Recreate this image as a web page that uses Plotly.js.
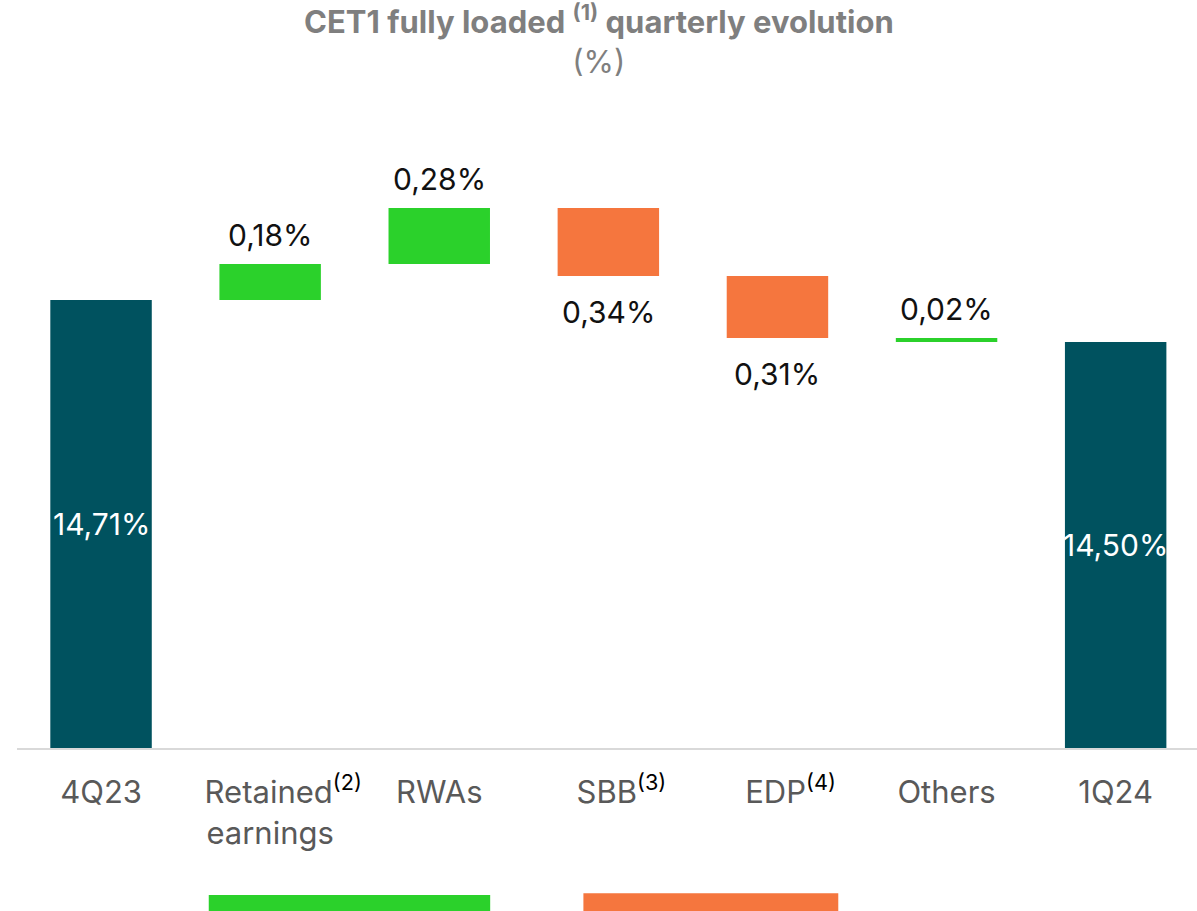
<!DOCTYPE html>
<html>
<head>
<meta charset="utf-8">
<script src="https://cdn.plot.ly/plotly-3.0.1.min.js"></script>
<style>html,body{margin:0;padding:0;background:#fff;}#chart{width:1197px;height:911px;}</style>
</head>
<body>
<div id="chart"></div>
<script>
// ---- data ----
const categories = ["4Q23", "Retained earnings", "RWAs", "SBB", "EDP", "Others", "1Q24"];
const tickWords = ["4Q23", "Retained", "RWAs", "SBB", "EDP", "Others", "1Q24"];
const tickSecondLine = ["", "earnings", "", "", "", "", ""];
const tickNotes = ["", "(2)", "", "(3)", "(4)", "", ""];
const kinds = ["total", "delta", "delta", "delta", "delta", "delta", "total"];
const values = [14.71, 0.18, 0.28, -0.34, -0.31, -0.02, 14.50];
const valueLabels = ["14,71%", "0,18%", "0,28%", "0,34%", "0,31%", "0,02%", "14,50%"];
const labelSide = ["inside", "above", "above", "below", "below", "above", "inside"];

// ---- styles ----
const TEAL = "#00525F", GREEN = "#2BD12B", ORANGE = "#F5763E";
const axisMin = 12.47, axisMax = 15.71;
const FONT = "Inter";

// tick labels: the word stays centred, the note hangs to the right (blank padding on the left balances it)
const tickLabels = tickWords.map((w, i) => {
  let t = w;
  if (tickNotes[i]) {
    t = "&nbsp;&nbsp;&nbsp;" + w + "<span style=\"color:#000000\"><sup>" + tickNotes[i] + "</sup></span>";
  }
  if (tickSecondLine[i]) t += "<br>" + tickSecondLine[i];
  return t;
});

// build waterfall geometry from the data
const bases = [], heights = [], colors = [];
let running = 0;
values.forEach((v, i) => {
  if (kinds[i] === "total") {
    bases.push(axisMin); heights.push(v - axisMin); colors.push(TEAL); running = v;
  } else {
    const start = running, end = running + v;
    bases.push(Math.min(start, end)); heights.push(Math.abs(v));
    colors.push(i === 5 ? GREEN : (v >= 0 ? GREEN : ORANGE));
    running = end;
  }
});

const trace = {
  type: "bar",
  x: categories,
  y: heights,
  base: bases,
  width: 0.6,
  marker: {color: colors, line: {width: 0}},
  hoverinfo: "skip",
  showlegend: false
};

const annotations = [];
values.forEach((v, i) => {
  const top = bases[i] + heights[i], bottom = bases[i];
  if (labelSide[i] === "inside") {
    annotations.push({x: categories[i], y: (top + bottom) / 2, xref: "x", yref: "y",
      text: valueLabels[i], showarrow: false, yanchor: "middle",
      font: {family: FONT, size: 30, color: "#ffffff"}});
  } else if (labelSide[i] === "above") {
    annotations.push({x: categories[i], y: top, xref: "x", yref: "y",
      text: valueLabels[i], showarrow: false, yanchor: "bottom", yshift: 9,
      font: {family: FONT, size: 30, color: "#111111"}});
  } else {
    annotations.push({x: categories[i], y: bottom, xref: "x", yref: "y",
      text: valueLabels[i], showarrow: false, yanchor: "top", yshift: -16,
      font: {family: FONT, size: 30, color: "#111111"}});
  }
});

annotations.push({
  xref: "paper", yref: "paper", x: 0.493, y: 1, yshift: 103, yanchor: "top",
  text: "<b>CET1 fully loaded <sup>(1)</sup> quarterly evolution</b><br>(%)",
  showarrow: false, font: {family: FONT, size: 31, color: "#7F7F7F"}
});

const layout = {
  width: 1197, height: 911,
  margin: {l: 17, r: 0, t: 100, b: 163},
  paper_bgcolor: "#ffffff", plot_bgcolor: "#ffffff",
  showlegend: false,
  xaxis: {
    type: "category", tickvals: categories, ticktext: tickLabels,
    range: [-0.497, 6.481], showline: true, linecolor: "#D9D9D9", linewidth: 2,
    showgrid: false, zeroline: false, ticks: "", ticklabelstandoff: 16,
    tickfont: {family: FONT, size: 31, color: "#595959"}, fixedrange: true
  },
  yaxis: {
    range: [axisMin, axisMax], visible: false, showgrid: false, zeroline: false, fixedrange: true
  },
  annotations: annotations,
  shapes: [
    {type: "rect", xref: "paper", yref: "paper", x0: 0.1625, x1: 0.401, y0: -0.227, y1: -0.30,
      fillcolor: GREEN, line: {width: 0}},
    {type: "rect", xref: "paper", yref: "paper", x0: 0.480, x1: 0.696, y0: -0.224, y1: -0.30,
      fillcolor: ORANGE, line: {width: 0}}
  ]
};

Plotly.newPlot("chart", [trace], layout, {displayModeBar: false, staticPlot: true});
</script>
</body>
</html>
